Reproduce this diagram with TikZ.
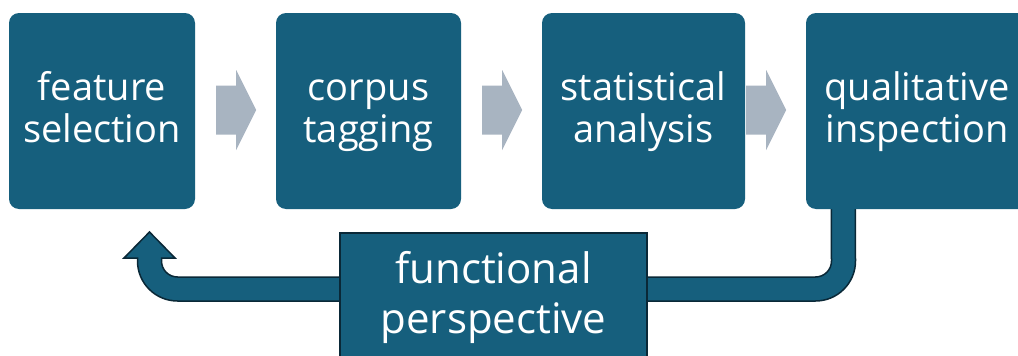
\documentclass[tikz,border=0pt]{standalone}
\usepackage{fontspec}
\setmainfont{Open Sans}
\usetikzlibrary{calc,backgrounds}

\definecolor{stageblue}{RGB}{22,95,125}
\definecolor{stepgray}{RGB}{168,180,193}
\definecolor{loopedge}{RGB}{10,40,55}

% fixed line metrics so every label sits on the same baselines
\newcommand{\topstrut}{\rule[-10pt]{0pt}{40pt}}
\newcommand{\botstrut}{\rule[-14pt]{0pt}{48pt}}

\begin{document}
\begin{tikzpicture}[x=1pt,y=1pt,
  stage/.style={fill=stageblue, rounded corners=10pt, minimum height=196pt,
    inner sep=0pt, text=white, align=center,
    font=\fontsize{38pt}{42pt}\selectfont},
  perspective/.style={fill=stageblue, draw=loopedge, line width=1.5pt,
    minimum width=307pt, minimum height=130pt, inner sep=0pt, text=white,
    align=center, font=\fontsize{42pt}{50pt}\selectfont},
  steparrow/.style={fill=stepgray},
  feedback/.style={fill=stageblue, draw=loopedge, line width=1.5pt, line join=miter}
]
\useasboundingbox (0,0) rectangle (1018,-356);
\clip (0,0) rectangle (1018,-356);

% pipeline stages
\node[stage, minimum width=186pt] (b1) at (102,-111) {\topstrut feature\\\topstrut selection};
\node[stage, minimum width=185pt] (b2) at (368.5,-111) {\topstrut corpus\\\topstrut tagging};
\node[stage, minimum width=203pt] (b3) at (643.5,-111) {\topstrut statistical\\\topstrut analysis};
\node[stage, minimum width=222pt] (b4) at (917,-111) {\topstrut qualitative\\\topstrut inspection};

% block arrows between consecutive stages
\newcommand{\steparrowat}[1]{%
  \fill[steparrow, shift={#1}] (0,24.5) -- (20,24.5) -- (20,40) -- (40,0)
    -- (20,-40) -- (20,-24.5) -- (0,-24.5) -- cycle;}
\steparrowat{($(b1.east)+(21,1)$)}
\steparrowat{($(b2.east)+(21,1)$)}
\steparrowat{($(b3.east)+(1,1)$)}

% feedback label box
\node[perspective] (fp) at (493.5,-298) {\botstrut functional\\\botstrut perspective};

% feedback loop from the last stage back to the first, behind everything else
\coordinate (loopstart) at ($(b4.south west)+(37.5,0)$);
\coordinate (looptip) at (149.5,-232);
\begin{scope}[on background layer]
\fill[white] (0,0) rectangle (1018,-356);
\draw[feedback] ($(loopstart)+(-12,4)$) -- (831.5,-261)
  arc[start angle=0, end angle=-90, radius=16] -- (177.5,-277)
  arc[start angle=270, end angle=180, radius=16] -- (161.5,-258)
  -- (175,-258) -- (looptip) -- (124,-258) -- (137.5,-258) -- (137.5,-261)
  arc[start angle=180, end angle=270, radius=40] -- (815.5,-301)
  arc[start angle=270, end angle=360, radius=40] -- ($(loopstart)+(12,4)$) -- cycle;
\end{scope}
\end{tikzpicture}
\end{document}
